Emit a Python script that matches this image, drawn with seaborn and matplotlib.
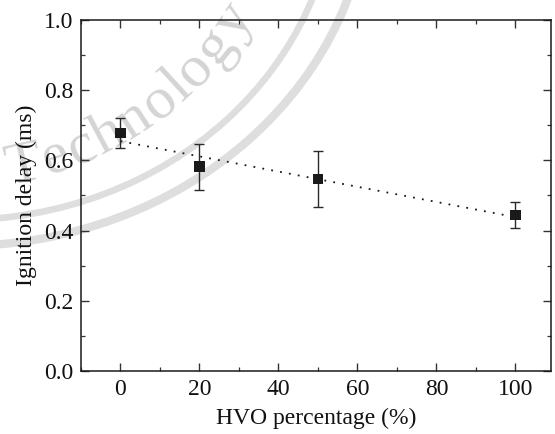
import numpy as np
import pandas as pd
import matplotlib
matplotlib.use("Agg")
import matplotlib.pyplot as plt
from matplotlib.patches import Ellipse
import seaborn as sns

# Measured ignition delay vs. HVO blend ratio
hvo_pct = [0, 20, 50, 100]
ignition_delay = [0.678, 0.582, 0.547, 0.444]
delay_err = [0.044, 0.065, 0.080, 0.038]

x_ticks = [0, 20, 40, 60, 80, 100]
y_ticks = [0.0, 0.2, 0.4, 0.6, 0.8, 1.0]

df = pd.DataFrame({"hvo": hvo_pct, "delay": ignition_delay, "err": delay_err})

sns.set_style("ticks")
plt.rcParams["font.family"] = ["Liberation Serif", "DejaVu Serif"]

W, H = 555, 434
fig = plt.figure(figsize=(W / 100, H / 100), dpi=100)

# Faint university seal in the background (pixel coordinates)
bg = fig.add_axes([0, 0, 1, 1], zorder=0)
bg.set_xlim(0, W)
bg.set_ylim(H, 0)
bg.axis("off")
seal_col = "#dedede"
cx, cy = -40, -120
bg.add_patch(Ellipse((cx, cy), 2 * 376, 2 * 340, fill=False, ec=seal_col, lw=4.8))
bg.add_patch(Ellipse((cx, cy), 2 * 410, 2 * 366, fill=False, ec=seal_col, lw=6.0))

# Curved lettering of the seal
word = "Technology"
R = 340.0
mid_x, mid_y, mid_dir = 144.0, 114.0, np.radians(35)
ccx = mid_x - R * np.sin(mid_dir)
ccy = mid_y - R * np.cos(mid_dir)
alpha_mid = np.arctan2(mid_y - ccy, mid_x - ccx)
advances = [0, 32, 28, 29, 31, 31, 24, 24, 31, 31]
s_pos = np.cumsum(advances) - 131
for ch, s in zip(word, s_pos):
    a = alpha_mid - s / R
    px = ccx + R * np.cos(a)
    py = ccy + R * np.sin(a)
    rot = 90 - np.degrees(a)
    bg.text(px, py, ch, fontsize=43, color="#d4d4d4", rotation=rot,
            rotation_mode="anchor", ha="center", va="center")

# Main plot
ax = fig.add_axes([81 / W, 1 - 371 / H, 470 / W, 351 / H], zorder=1)
ax.patch.set_alpha(0)

sns.regplot(data=df, x="hvo", y="delay", ax=ax, ci=None, scatter=False,
            truncate=True,
            line_kws=dict(color="#1a1a1a", lw=1.3, linestyle=(0, (1, 4))))
ax.errorbar(df["hvo"], df["delay"], yerr=df["err"], fmt="none",
            ecolor="#2a2a2a", elinewidth=1.0, capsize=3.6, capthick=1.0, zorder=3)
sns.scatterplot(data=df, x="hvo", y="delay", ax=ax, marker="s", s=58,
                color="#1a1a1a", edgecolor="none", zorder=4)

ax.set_xlim(-10, 109)
ax.set_ylim(0, 1.0)
ax.set_xticks(x_ticks)
ax.set_yticks(y_ticks)
ax.set_xticklabels([str(v) for v in x_ticks])
ax.set_yticklabels([f"{v:.1f}" for v in y_ticks])
ax.xaxis.set_minor_locator(matplotlib.ticker.MultipleLocator(10))
ax.yaxis.set_minor_locator(matplotlib.ticker.MultipleLocator(0.1))

for side in ["top", "right", "bottom", "left"]:
    ax.spines[side].set_visible(True)
    ax.spines[side].set_color("#1a1a1a")
    ax.spines[side].set_linewidth(1.1)

ax.tick_params(which="both", direction="in", top=True, right=True,
               color="#333333", labelsize=17, labelcolor="#111111")
ax.tick_params(which="major", length=5.5, width=1.0, pad=5.5)
ax.tick_params(which="minor", length=3, width=0.9)

ax.set_xlabel("HVO percentage (%)", fontsize=17, color="#111111", labelpad=6)
ax.set_ylabel("Ignition delay (ms)", fontsize=17, color="#111111", labelpad=5)

fig.savefig("out.png", dpi=100)
